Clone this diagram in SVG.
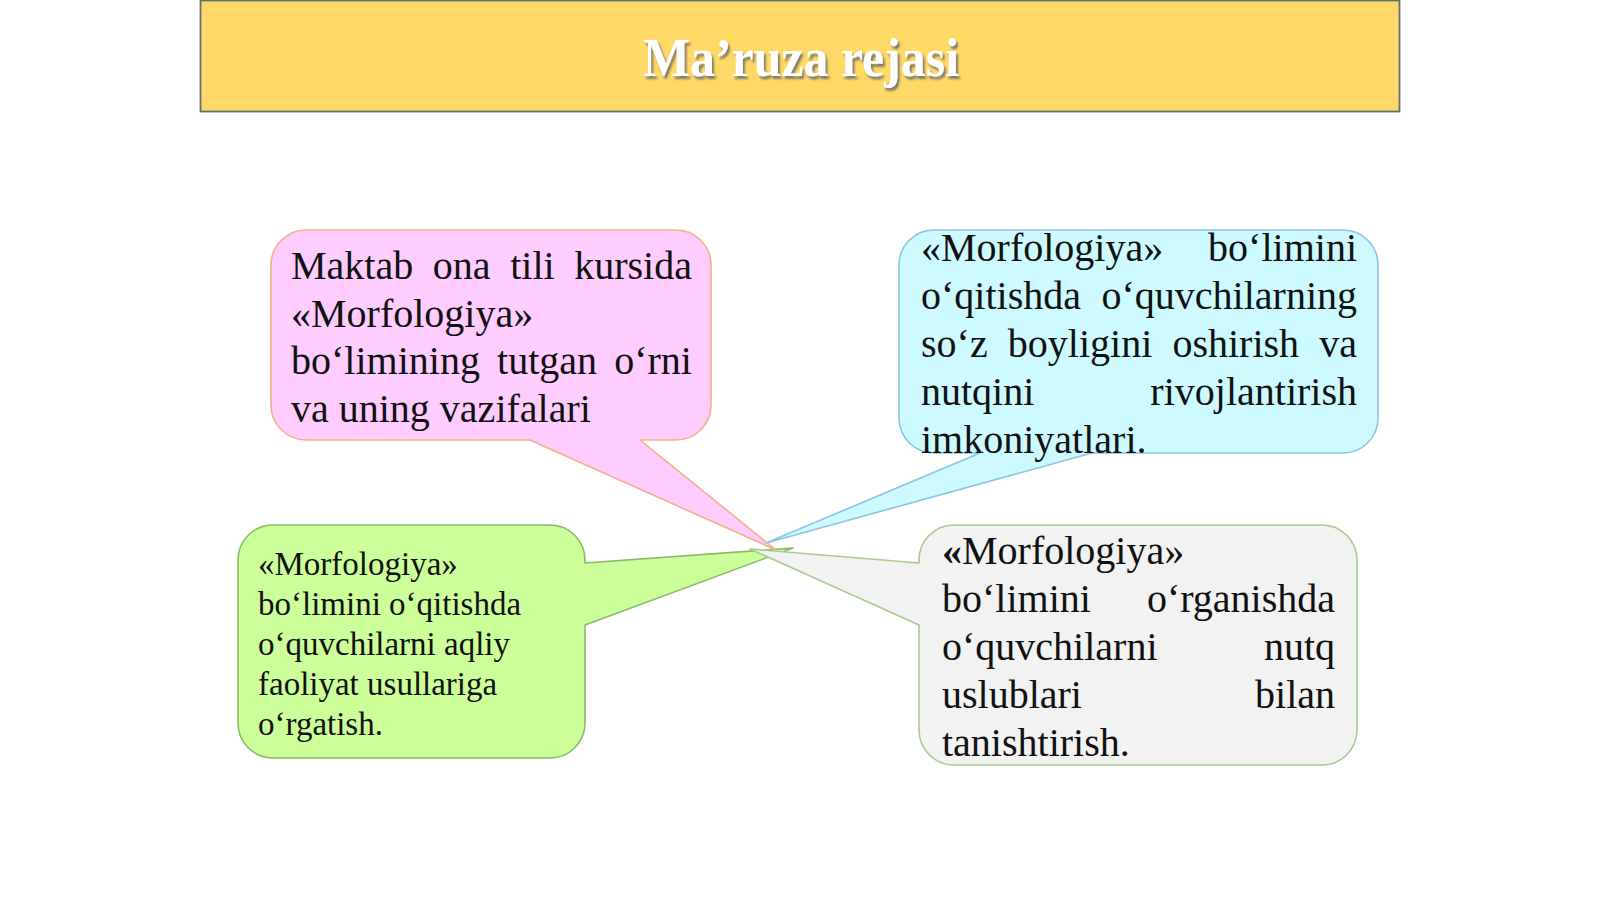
<svg xmlns="http://www.w3.org/2000/svg" width="1600" height="900" viewBox="0 0 1600 900">
  <defs>
    <filter id="shadow" x="-10%" y="-30%" width="120%" height="160%">
      <feDropShadow dx="2" dy="3" stdDeviation="1.2" flood-color="#6b6b6b" flood-opacity="0.85"/>
    </filter>
  </defs>
  <style>
    .t { font-family: "Liberation Serif", "Times New Roman", serif; fill: #111111; }
    .big { font-size: 40px; }
    .small { font-size: 33px; }
    .end { text-anchor: end; }
    .callout { stroke-width: 1.6; stroke-linejoin: round; }
  </style>
  <rect width="1600" height="900" fill="#ffffff"/>

  <g id="header">
    <rect x="200.5" y="0.5" width="1199" height="111" fill="#FFD966" stroke="#5E7272" stroke-width="1.8"/>
    <text x="643" y="76" font-family="Liberation Serif, Times New Roman, serif" font-weight="bold" font-size="54" fill="#ffffff" textLength="316" lengthAdjust="spacingAndGlyphs" filter="url(#shadow)">Ma’ruza rejasi</text>
  </g>

  <g id="node-green">
    <path class="callout" fill="#CCFF99" stroke="#8DB86A" d="M273,525 H550 A35,35 0 0 1 585,560 V563 L793,548 L585,625 V723 A35,35 0 0 1 550,758 H273 A35,35 0 0 1 238,723 V560 A35,35 0 0 1 273,525 Z"/>
    <text class="t small" x="258" y="575">«Morfologiya»</text>
    <text class="t small" x="258" y="615">bo‘limini o‘qitishda</text>
    <text class="t small" x="258" y="655">o‘quvchilarni aqliy</text>
    <text class="t small" x="258" y="695">faoliyat usullariga</text>
    <text class="t small" x="258" y="735">o‘rgatish.</text>
  </g>

  <g id="node-gray">
    <path class="callout" fill="#F2F2F2" stroke="#A9CB8E" d="M954,525 H1322 A35,35 0 0 1 1357,560 V730 A35,35 0 0 1 1322,765 H954 A35,35 0 0 1 919,730 V625 L750,549 L919,563 V560 A35,35 0 0 1 954,525 Z"/>
    <text class="t big" x="942" y="564"><tspan font-weight="bold">«</tspan>Morfologiya»</text>
    <text class="t big" x="942" y="612">bo‘limini</text>
    <text class="t big end" x="1335" y="612">o‘rganishda</text>
    <text class="t big" x="942" y="660">o‘quvchilarni</text>
    <text class="t big end" x="1335" y="660">nutq</text>
    <text class="t big" x="942" y="708">uslublari</text>
    <text class="t big end" x="1335" y="708">bilan</text>
    <text class="t big" x="942" y="756">tanishtirish.</text>
  </g>

  <g id="node-pink">
    <path class="callout" fill="#FFCCFF" stroke="#F4B183" d="M306,230 H676 A35,35 0 0 1 711,265 V405 A35,35 0 0 1 676,440 H640 L776,550 L530,440 H306 A35,35 0 0 1 271,405 V265 A35,35 0 0 1 306,230 Z"/>
    <text class="t big" y="279"><tspan x="291">Maktab</tspan><tspan x="432.8">ona</tspan><tspan x="510.2">tili</tspan><tspan x="574.2">kursida</tspan></text>
    <text class="t big" x="291" y="327">«Morfologiya»</text>
    <text class="t big" y="374"><tspan x="291">bo‘limining</tspan><tspan x="497.1">tutgan</tspan><tspan x="614.2">o‘rni</tspan></text>
    <text class="t big" x="291" y="422">va uning vazifalari</text>
  </g>

  <g id="node-cyan">
    <path class="callout" fill="#CCFAFF" stroke="#8CC4E4" d="M934,230 H1343 A35,35 0 0 1 1378,265 V418 A35,35 0 0 1 1343,453 H1092 L766,543 L980,453 H934 A35,35 0 0 1 899,418 V265 A35,35 0 0 1 934,230 Z"/>
    <text class="t big" x="921" y="261">«Morfologiya»</text>
    <text class="t big end" x="1357" y="261">bo‘limini</text>
    <text class="t big" x="921" y="309">o‘qitishda</text>
    <text class="t big end" x="1357" y="309">o‘quvchilarning</text>
    <text class="t big" y="357"><tspan x="921">so‘z</tspan><tspan x="1007.8">boyligini</tspan><tspan x="1172.4">oshirish</tspan><tspan x="1319.2">va</tspan></text>
    <text class="t big" x="921" y="405">nutqini</text>
    <text class="t big end" x="1357" y="405">rivojlantirish</text>
    <text class="t big" x="921" y="453">imkoniyatlari.</text>
  </g>
</svg>
